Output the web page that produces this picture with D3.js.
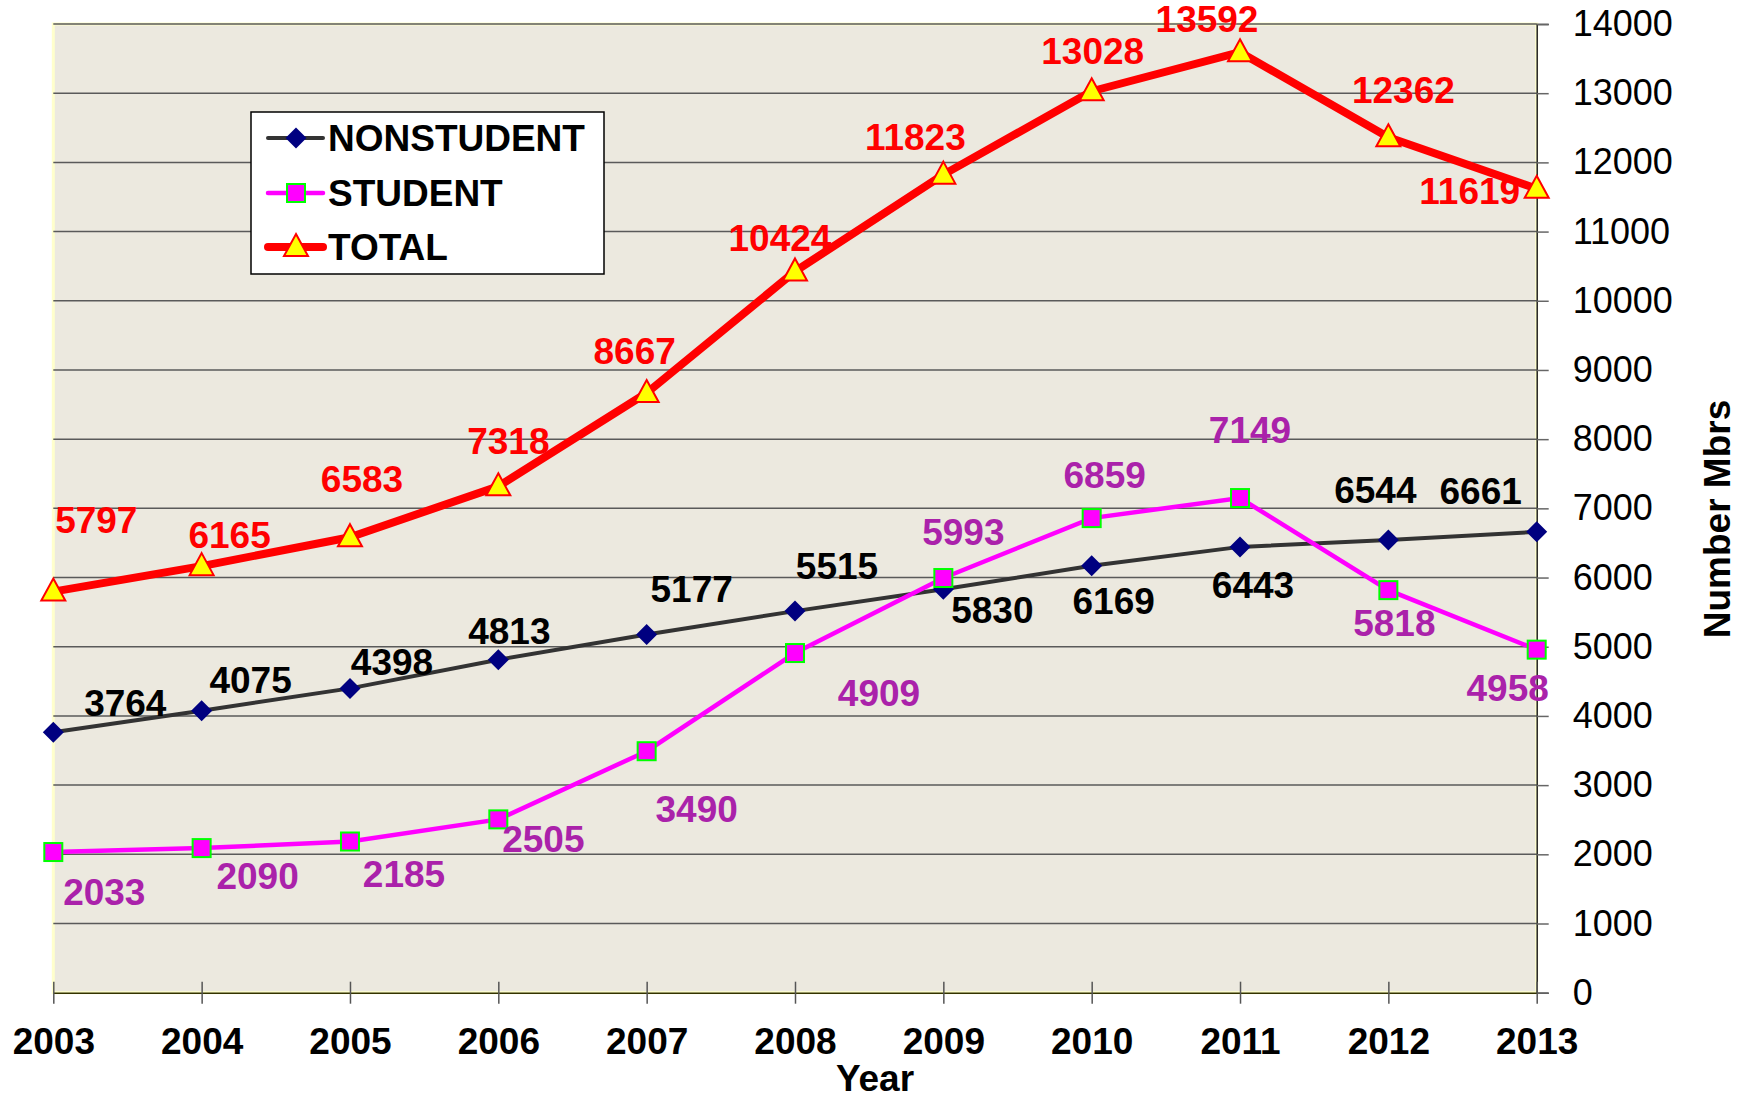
<!DOCTYPE html>
<html><head><meta charset="utf-8">
<script src="https://cdn.jsdelivr.net/npm/d3@7"></script>
<style>
html,body{margin:0;padding:0;background:#fff;}
svg{display:block;font-family:Arial,"Liberation Sans",sans-serif;}
</style></head>
<body><svg id="c" width="1750" height="1101"></svg>
<script>
const years = ["2003","2004","2005","2006","2007","2008","2009","2010","2011","2012","2013"];
const nonstudent = [3764,4075,4398,4813,5177,5515,5830,6169,6443,6544,6661];
const student = [2033,2090,2185,2505,3490,4909,5993,6859,7149,5818,4958];
const total = [5797,6165,6583,7318,8667,10424,11823,13028,13592,12362,11619];
const yTicks = [0,1000,2000,3000,4000,5000,6000,7000,8000,9000,10000,11000,12000,13000,14000];
const seriesNames = ["NONSTUDENT","STUDENT","TOTAL"];

// label offsets (px) relative to each point
const offTotal = [[43,-71],[28,-31],[12,-58],[10,-45],[-12,-42],[-15,-33],[-28,-37],[1,-40],[-33,-33],[15,-47],[-67,3]];
const offNon = [[72,-29],[49,-30],[42,-26],[11,-28],[45,-45],[42,-45],[49,21],[22,36],[13,39],[-13,-49],[-56,-40]];
const offStu = [[51,40],[56,28],[54,33],[45,20],[50,58],[84,40],[20,-46],[13,-43],[10,-68],[6,33],[-29,39]];

const svg = d3.select("#c");
const L = 53.3, R = 1536.7, T = 24, B = 992.7;
const x = d3.scalePoint().domain(years).range([L, R]);
const y = d3.scaleLinear().domain([0,14000]).range([B, T]);

// plot background
svg.append("rect").attr("x",L).attr("y",T).attr("width",R-L).attr("height",B-T)
  .attr("fill","#ECE9DF").attr("stroke","#FFFFCC").attr("stroke-width",3);

// gridlines
svg.append("g").selectAll("line").data(yTicks.filter(d=>d>0)).join("line")
  .attr("x1",L).attr("x2",R).attr("y1",d=>y(d)).attr("y2",d=>y(d))
  .attr("stroke","#5a5a5a").attr("stroke-width",1.5);

// right axis
const ya = svg.append("g").attr("transform",`translate(${R},0)`)
  .call(d3.axisRight(y).tickValues(yTicks).tickSize(12).tickPadding(24).tickFormat(d3.format("d")));
ya.select(".domain").attr("stroke","#222").attr("stroke-width",1.5);
ya.selectAll(".tick line").attr("stroke","#666").attr("stroke-width",1.5);
ya.selectAll(".tick text").attr("font-size",36).attr("fill","#000").attr("font-family","Arial,'Liberation Sans',sans-serif");

// bottom axis
const xa = svg.append("g").attr("transform",`translate(0,${B})`)
  .call(d3.axisBottom(x).tickSize(0).tickPadding(0));
xa.select(".domain").attr("stroke","#333300").attr("stroke-width",1.5);
xa.selectAll(".tick line").remove();
xa.selectAll(".tick").append("line").attr("y1",-11).attr("y2",11).attr("stroke","#555").attr("stroke-width",1.5);
xa.selectAll(".tick text").attr("font-size",37).attr("font-weight","bold").attr("fill","#000")
  .attr("y",61).attr("dy",0).attr("font-family","Arial,'Liberation Sans',sans-serif");

// axis titles
svg.append("text").attr("x",875).attr("y",1091).attr("text-anchor","middle")
  .attr("font-size",37).attr("font-weight","bold").text("Year");
svg.append("text").attr("transform","translate(1730,519) rotate(-90)").attr("text-anchor","middle")
  .attr("font-size",37).attr("font-weight","bold").text("Number Mbrs");

const line = d3.line().x((d,i)=>x(years[i])).y(d=>y(d));

function diamond(g, cx, cy){ g.append("path").attr("d",`M${cx},${cy-10.5}L${cx+10.5},${cy}L${cx},${cy+10.5}L${cx-10.5},${cy}Z`).attr("fill","#000080"); }
function square(g, cx, cy){ g.append("rect").attr("x",cx-9).attr("y",cy-9).attr("width",18).attr("height",18).attr("fill","#FF00FF").attr("stroke","#00FF00").attr("stroke-width",2); }
function tri(g, cx, cy){ g.append("path").attr("d",`M${cx},${cy-13}L${cx+12},${cy+9}L${cx-12},${cy+9}Z`).attr("fill","#FFFF00").attr("stroke","#FF0000").attr("stroke-width",2); }

// nonstudent
svg.append("path").datum(nonstudent).attr("d",line).attr("fill","none").attr("stroke","#333333").attr("stroke-width",4);
const gN = svg.append("g");
nonstudent.forEach((v,i)=>diamond(gN, x(years[i]), y(v)));
// student
svg.append("path").datum(student).attr("d",line).attr("fill","none").attr("stroke","#FF00FF").attr("stroke-width",4.5);
const gS = svg.append("g");
student.forEach((v,i)=>square(gS, x(years[i]), y(v)));
// total
svg.append("path").datum(total).attr("d",line).attr("fill","none").attr("stroke","#FF0000").attr("stroke-width",8).attr("stroke-linejoin","round");
const gT = svg.append("g");
total.forEach((v,i)=>tri(gT, x(years[i]), y(v)));

function labels(data, off, color){
  svg.append("g").selectAll("text").data(data).join("text")
    .attr("x",(d,i)=>x(years[i])+off[i][0]).attr("y",(d,i)=>y(d)+off[i][1])
    .attr("text-anchor","middle").attr("dominant-baseline","central")
    .attr("font-size",37).attr("font-weight","bold").attr("fill",color).text(d=>d);
}
labels(nonstudent, offNon, "#000000");
labels(student, offStu, "#AA22AA");
labels(total, offTotal, "#FF0000");

// legend
const lg = svg.append("g");
lg.append("rect").attr("x",251).attr("y",112).attr("width",353).attr("height",162).attr("fill","#fff").attr("stroke","#000").attr("stroke-width",1.5);
const rows = [
  {name:seriesNames[0], cy:138, col:"#333333", w:4, m:diamond},
  {name:seriesNames[1], cy:193, col:"#FF00FF", w:4.5, m:square},
  {name:seriesNames[2], cy:247, col:"#FF0000", w:8, m:tri}
];
rows.forEach(r=>{
  lg.append("line").attr("x1",268).attr("x2",323).attr("y1",r.cy).attr("y2",r.cy).attr("stroke",r.col).attr("stroke-width",r.w).attr("stroke-linecap","round");
  r.m(lg, 296, r.cy);
  lg.append("text").attr("x",328).attr("y",r.cy).attr("dominant-baseline","central").attr("font-size",37).attr("font-weight","bold").text(r.name);
});
</script></body></html>
